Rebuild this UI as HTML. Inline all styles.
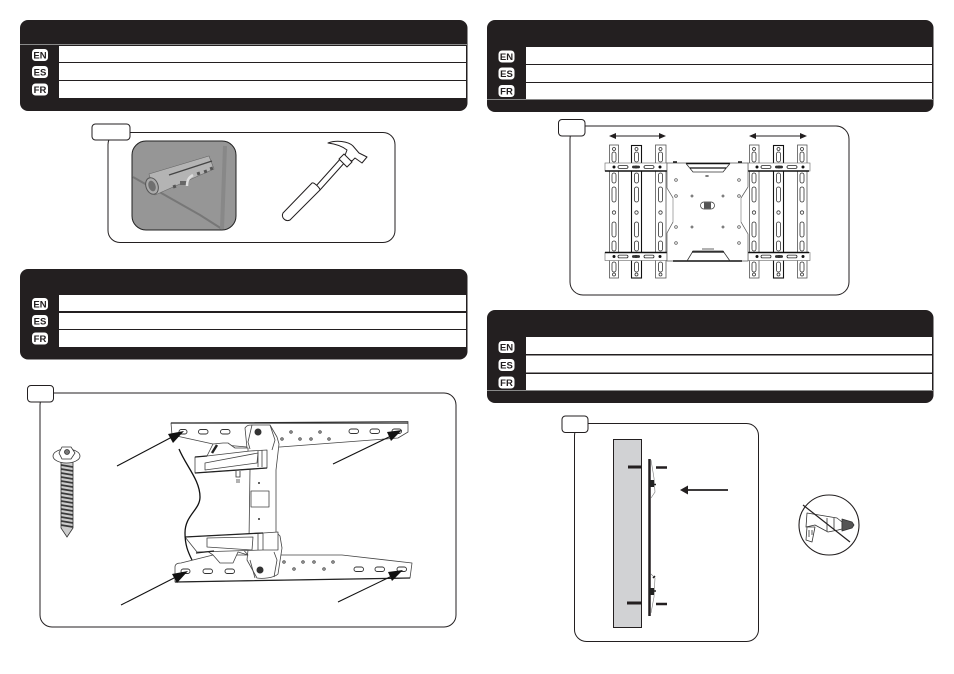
<!DOCTYPE html>
<html><head><meta charset="utf-8"><style>
html,body{margin:0;padding:0;background:#fff}
svg{display:block}
.b{font:bold 9.5px "Liberation Sans",sans-serif;fill:#231f20;text-anchor:middle}
</style></head><body>
<svg width="954" height="674" viewBox="0 0 954 674" xmlns="http://www.w3.org/2000/svg">
<defs>
<g id="bEN"><rect x="-8" y="-6" width="16" height="12" rx="3.5" fill="#fff"/></g>
<g id="strip" fill="none" stroke="#333" stroke-width=".8">
 <circle cx="0" cy="3" r="1.500"/>
 <rect x="-2" y="6" width="4" height="10" rx="2"/>
 <rect x="-2" y="27" width="4" height="10" rx="2"/>
 <rect x="-2" y="41" width="4" height="15" rx="2"/>
 <circle cx="0" cy="66.500" r="1.700"/>
 <rect x="-2" y="76" width="4" height="15" rx="2"/>
 <rect x="-2" y="95" width="4" height="10" rx="2"/>
 <rect x="-2" y="116" width="4" height="10" rx="2"/>
 <circle cx="0" cy="128.500" r="1.500"/>
</g>
<g id="bar">
 <rect x="0" y="0" width="62" height="8" fill="#fff" stroke="#666" stroke-width=".6"/>
 <circle cx="9" cy="4" r="1.500" fill="#111"/><circle cx="31" cy="4" r="1.500" fill="#111"/><circle cx="55" cy="4" r="1.500" fill="#111"/>
 <rect x="13" y="2.600" width="10" height="2.800" rx="1.400" fill="none" stroke="#222" stroke-width=".8"/>
 <rect x="27" y="2.600" width="8" height="2.800" rx="1.400" fill="#333"/>
 <rect x="39" y="2.600" width="10" height="2.800" rx="1.400" fill="none" stroke="#222" stroke-width=".8"/>
</g>
</defs>

<!-- header panels -->
<g fill="#231f20">
<rect x="20" y="20" width="447.500" height="91" rx="8"/>
<rect x="487" y="20" width="446.500" height="92" rx="8"/>
<rect x="20" y="269" width="447.500" height="90.500" rx="8"/>
<rect x="487" y="310" width="446.500" height="93" rx="8"/>
</g>
<g fill="#fff">
<rect x="59" y="46" width="407" height="16"/><rect x="59" y="63" width="407" height="17"/><rect x="59" y="81" width="407" height="17"/>
<rect x="526" y="47" width="406" height="17"/><rect x="526" y="65" width="406" height="17"/><rect x="526" y="83" width="406" height="16"/>
<rect x="59" y="295" width="407" height="16"/><rect x="59" y="313" width="407" height="16"/><rect x="59" y="330" width="407" height="17"/>
<rect x="526" y="337" width="406" height="17"/><rect x="526" y="355.500" width="406" height="17"/><rect x="526" y="374" width="406" height="16.500"/>
</g>
<path d="M20 44.500H467" stroke="#8a8a8a" stroke-width="1"/>
<path d="M487 99.500H933" stroke="#8a8a8a" stroke-width="1"/>
<path d="M487 390.500H933" stroke="#8a8a8a" stroke-width="1"/>

<!-- language badges -->
<g>
<use href="#bEN" x="40" y="55"/><use href="#bEN" x="40" y="72"/><use href="#bEN" x="40" y="89.500"/>
<use href="#bEN" x="506.500" y="56.500"/><use href="#bEN" x="506.500" y="73.500"/><use href="#bEN" x="506.500" y="91"/>
<use href="#bEN" x="40" y="304"/><use href="#bEN" x="40" y="321"/><use href="#bEN" x="40" y="338.500"/>
<use href="#bEN" x="506.500" y="347"/><use href="#bEN" x="506.500" y="365"/><use href="#bEN" x="506.500" y="382.500"/>
</g>
<g>
<text class="b" x="40" y="58.500">EN</text><text class="b" x="40" y="75.500">ES</text><text class="b" x="40" y="93">FR</text>
<text class="b" x="506.500" y="60">EN</text><text class="b" x="506.500" y="77">ES</text><text class="b" x="506.500" y="94.500">FR</text>
<text class="b" x="40" y="307.500">EN</text><text class="b" x="40" y="324.500">ES</text><text class="b" x="40" y="342">FR</text>
<text class="b" x="506.500" y="350.500">EN</text><text class="b" x="506.500" y="368.500">ES</text><text class="b" x="506.500" y="386">FR</text>
</g>

<!-- step boxes -->
<g fill="#fff" stroke="#231f20" stroke-width="1">
<rect x="108" y="132.500" width="287" height="110" rx="12"/>
<rect x="92" y="124" width="38" height="16" rx="3.500"/>
<rect x="570" y="126" width="279" height="169" rx="13"/>
<rect x="558.500" y="119.500" width="26.500" height="16.500" rx="3.500"/>
<rect x="40" y="393" width="416" height="234" rx="12"/>
<rect x="27.500" y="385.500" width="26" height="16.500" rx="3.500"/>
<rect x="574.500" y="423.500" width="184" height="218" rx="12"/>
<rect x="562" y="416" width="26" height="16.500" rx="3.500"/>
</g>

<!-- wall anchor photo -->
<rect x="132" y="141" width="104" height="89" rx="14" fill="#969696" stroke="#222" stroke-width="1"/>
<path d="M133 177L200 215L222 229" stroke="#777" stroke-width="2" fill="none"/>
<path d="M225 146L222 229" stroke="#888" stroke-width="4" fill="none"/>
<path d="M168 168L192 171L186 175Z" fill="#bbb"/>
<path d="M149 174L209 156L214 169L155 195Z" fill="#b4b4b4" stroke="#666" stroke-width=".6"/>
<ellipse cx="152" cy="186" rx="6" ry="8.500" transform="rotate(-20 152 186)" fill="#aaa" stroke="#555"/>
<ellipse cx="152" cy="186" rx="3.500" ry="5.500" transform="rotate(-20 152 186)" fill="#6f6f6f"/>
<path d="M169 175L212 161" stroke="#444" stroke-width="1.400"/>
<path d="M174 185l1 3M198 172l1 3M205 170l1 3M211 167l1 3" stroke="#555" stroke-width="3"/>
<path d="M180 183h8" stroke="#666" stroke-width="4"/>
<path d="M193 175C188 178 187 181 187 186" stroke="#ddd" stroke-width="2.500" fill="none"/>

<!-- hammer -->
<g fill="#fff" stroke="#231f20" stroke-width="1" stroke-linejoin="round">
<path d="M316 186L342 157L346 161L320 190Z"/>
<path d="M283 213L312 183C314 182 320 188 320 190L290 220C288 221 286 221 284 219C282 217 282 215 283 213Z"/>
<path d="M328 143C336 140 348 141 353 146L359 153L367 157L362 163L355 158L352 161L344 158L347 150C342 146 336 144 328 143Z"/>
<path d="M344 154L352 162L347 167L339 159Z"/>
</g>

<!-- top right diagram -->
<g fill="#fff" stroke="#555" stroke-width=".8">
<rect x="609.500" y="145" width="9" height="133"/><rect x="655.500" y="145" width="10.500" height="133"/>
<rect x="749.500" y="145" width="9.500" height="133"/><rect x="797.500" y="145" width="9.500" height="133"/>
</g>
<g fill="#fff" stroke="#111" stroke-width="1.100">
<rect x="631.500" y="145.500" width="10" height="132.500"/><rect x="773.500" y="145.500" width="10" height="132.500"/>
</g>
<use href="#strip" x="614" y="146"/><use href="#strip" x="636.500" y="146"/><use href="#strip" x="660.500" y="146"/>
<use href="#strip" x="754" y="146"/><use href="#strip" x="778.500" y="146"/><use href="#strip" x="802" y="146"/>
<use href="#bar" x="605" y="163"/><use href="#bar" x="605" y="252.500"/>
<use href="#bar" x="748" y="163"/><use href="#bar" x="748" y="252.500"/>
<path d="M605 171H667M748 171H809M605 252.500H667M748 252.500H809" stroke="#111" stroke-width="1.500"/>
<path d="M667 163H748V187L741 198V222L748 234V261H667V233L673 222V198L667 188Z" fill="#fff" stroke="#555" stroke-width=".7"/>
<path d="M673 198V222M741 198V222" stroke="#aaa" stroke-width="1"/>
<path d="M686 163.500H730" stroke="#111" stroke-width="1.600"/>
<path d="M686 163.500L693 172H723L730 163.500" fill="none" stroke="#333" stroke-width=".8"/>
<path d="M690 168H726" stroke="#111" stroke-width="1.200"/>
<path d="M673 261H742" stroke="#111" stroke-width="1.600"/>
<path d="M673 162h4M738 162h4" stroke="#111" stroke-width="1.500"/>
<path d="M687 261L693 251H723L730 261" fill="none" stroke="#333" stroke-width=".8"/>
<path d="M692 252H724" stroke="#111" stroke-width="1.300"/>
<g fill="none" stroke="#444" stroke-width=".7">
<circle cx="676" cy="180" r="1.300"/><circle cx="739" cy="180" r="1.300"/>
<circle cx="676" cy="196" r="1.300"/><circle cx="739" cy="196" r="1.300"/>
<circle cx="692" cy="196" r="1"/><circle cx="723" cy="196" r="1"/>
<circle cx="676" cy="227" r="1.300"/><circle cx="739" cy="227" r="1.300"/>
<circle cx="692" cy="227" r="1"/><circle cx="723" cy="227" r="1"/>
<circle cx="676" cy="243" r="1.300"/><circle cx="739" cy="243" r="1.300"/>
</g>
<rect x="700.500" y="202" width="14" height="7" rx="3.500" fill="#fff" stroke="#333" stroke-width=".7"/>
<rect x="704" y="202.500" width="7" height="6" fill="#555"/>
<path d="M705 176H709M707 175V177M702 249H714" stroke="#333" stroke-width=".8"/>
<g stroke="#231f20" fill="#231f20">
<path d="M612 136H664" stroke-width=".9"/><path d="M609 136l7-3v6zM666 136l-7-3v6z" stroke="none"/>
<path d="M752 136H805" stroke-width=".9"/><path d="M749 136l7-3v6zM807 136l-7-3v6z" stroke="none"/>
</g>

<!-- screw -->
<g stroke="#333" stroke-width=".8" fill="#fff">
<path d="M61 462H73V528L67 537L61 528Z" fill="#ccc"/>
<ellipse cx="66.500" cy="456" rx="13.500" ry="7"/>
<path d="M59 453L62 447H71L75 453L71 459H62Z"/>
<circle cx="67" cy="452" r="2.500" fill="#777"/>
</g>
<g stroke="#3a3a3a" stroke-width="1.700" fill="none">
<path d="M61 465l12 2M61 469l12 2M61 473l12 2M61 477l12 2M61 481l12 2M61 485l12 2M61 489l12 2M61 493l12 2M61 497l12 2M61 501l12 2M61 505l12 2M61 509l12 2M61 513l12 2M61 517l12 2M61 521l12 2M61 525l12 2"/>
</g>

<!-- wall bracket -->
<g fill="#fff" stroke="#444" stroke-width=".8" stroke-linejoin="round">
<!-- rails -->
<path d="M171 423L408 421.500L408 432L398 438L280 447L247 447L213 444L172 435Z"/>
<path d="M175 567C175 564 178 563 181 563L213 555L342 555L412 563L410 578L175 582Z"/>
<!-- body -->
<path d="M245 428C247 425 249 425 252 425H270L277 437L279 444L276 470V532L280 536L282 548L278 574C274 578 262 579 257 578L247 560L249 540L250 470L247 448Z"/>
<path d="M252 425L248 442L250 449M270 425L275 440L272 450M255 578L250 560M274 577L277 560L274 552" fill="none"/>
<rect x="251" y="491" width="18" height="16"/>
<!-- upper link -->
<path d="M213 444L223 443L228 443L235 448L248 448V456H207Z"/>
<!-- upper arm -->
<path d="M195 457L207 456L250 451L267 450V468L195 473Z"/>
<path d="M205 463L258 453L257 463L205 470Z"/>
<path d="M258 451V467M262 450V467" fill="none"/>
<!-- lower link -->
<path d="M213 555L220 563H233L238 552L248 555L240 546H200Z"/>
<!-- lower arm -->
<path d="M185 537L263 533L278 532V550H263L197 552Z"/>
<path d="M207 538L253 537L252 550L207 547Z"/>
<path d="M258 534V550M263 533V550" fill="none"/>
</g>
<path d="M171 423H408M175 582L410 578" stroke="#222" stroke-width="1.200"/>
<path d="M212 453L217 445" stroke="#222" stroke-width="2.500"/>
<path d="M195 457L207 456M195 473L267 468M185 537L263 533" stroke="#222" stroke-width="1.300"/>
<path d="M196 553L214 551" stroke="#222" stroke-width="1.200"/>
<g fill="none" stroke="#333" stroke-width=".9">
<rect x="179" y="429.500" width="8" height="4.500" rx="2.200"/><rect x="198.500" y="429.500" width="9.500" height="4.500" rx="2.200"/><rect x="220.500" y="429.500" width="9.500" height="4.500" rx="2.200"/>
<rect x="349" y="429" width="9.500" height="4.500" rx="2.200"/><rect x="370" y="429" width="9.500" height="4.500" rx="2.200"/><rect x="392" y="429" width="9.500" height="4.500" rx="2.200"/>
<rect x="181" y="569" width="9" height="4.500" rx="2.200"/><rect x="203" y="569" width="9.500" height="4.500" rx="2.200"/><rect x="225" y="569" width="9.500" height="4.500" rx="2.200"/>
<rect x="354" y="567" width="9.500" height="4.500" rx="2.200"/><rect x="375" y="567" width="9.500" height="4.500" rx="2.200"/><rect x="397" y="567" width="9.500" height="4.500" rx="2.200"/>
<circle cx="291" cy="432" r="1.200"/><circle cx="282" cy="439" r="1.200"/><circle cx="300" cy="439" r="1.200"/><circle cx="311" cy="439" r="1.200"/><circle cx="320" cy="432" r="1.200"/><circle cx="329" cy="439" r="1.200"/>
<circle cx="284" cy="562" r="1.200"/><circle cx="294" cy="569" r="1.200"/><circle cx="303" cy="562" r="1.200"/><circle cx="314" cy="562" r="1.200"/><circle cx="324" cy="569" r="1.200"/><circle cx="333" cy="562" r="1.200"/>
</g>
<circle cx="258" cy="432" r="3.500" fill="#333"/><circle cx="260" cy="570" r="3.500" fill="#333"/>
<circle cx="259" cy="483" r="1" fill="#333"/><circle cx="259" cy="519" r="1" fill="#333"/>
<path d="M179 449C186 466 200 480 200 497C200 510 185 515 185 533C185 545 188 552 192 560" fill="none" stroke="#111" stroke-width="1.300"/>
<path d="M236 471v6h4v-6M236 480h4M236 482h4" fill="none" stroke="#333" stroke-width=".8"/>
<!-- arrows -->
<g stroke="#111" stroke-width="1.100" fill="#111">
<path d="M117 466L172 437"/><path d="M184 431L173 443L168 434Z" stroke="none"/>
<path d="M121 605L176 577"/><path d="M188 571L177 583L172 574Z" stroke="none"/>
<path d="M333 464L391 436"/><path d="M402 430L391 441L387 432Z" stroke="none"/>
<path d="M338 602L392 576"/><path d="M403 570L392 581L388 572Z" stroke="none"/>
</g>

<!-- wall side view -->
<rect x="613.500" y="439.500" width="28" height="188" fill="#d1d2d4" stroke="#231f20" stroke-width="1"/>
<path d="M628 467H641M627 603H641" stroke="#231f20" stroke-width="3"/>
<path d="M656 467.500H667M656 604H667" stroke="#231f20" stroke-width="2.500"/>
<path d="M649.500 459V616" stroke="#231f20" stroke-width="2.500"/>
<path d="M651 460L654 478L655 492L651 498M651 613L654 597L655 578L651 574" fill="none" stroke="#777" stroke-width=".6"/>
<rect x="649" y="480" width="5" height="7" fill="#222"/><rect x="649" y="588" width="5" height="7" fill="#222"/>
<path d="M654 484.500h2M654 591h2M653 578l2-2" stroke="#222" stroke-width="1.500"/>
<path d="M684 490H728" stroke="#231f20" stroke-width="1.800"/><path d="M680 490L688 485.500V494.500Z" fill="#231f20"/>

<!-- no drill -->
<circle cx="829" cy="525" r="30" fill="#fff" stroke="#231f20" stroke-width="1.100"/>
<g fill="#fff" stroke="#333" stroke-width=".8" stroke-linejoin="round">
<path d="M807 513L837 518L842 522V529L838 530L828 532L815 525L806 527Z"/>
<path d="M807 527L815 527L812 542L806 540Z"/>
<path d="M842 519L852 522L854 525L852 528L842 531Z" fill="#555"/>
<path d="M827 518V531M834 518V530" fill="none"/>
<path d="M809 530v7M812 530v5" fill="none"/>
</g>
<path d="M803 505L850 542" stroke="#231f20" stroke-width="1.200"/>
</svg>
</body></html>
